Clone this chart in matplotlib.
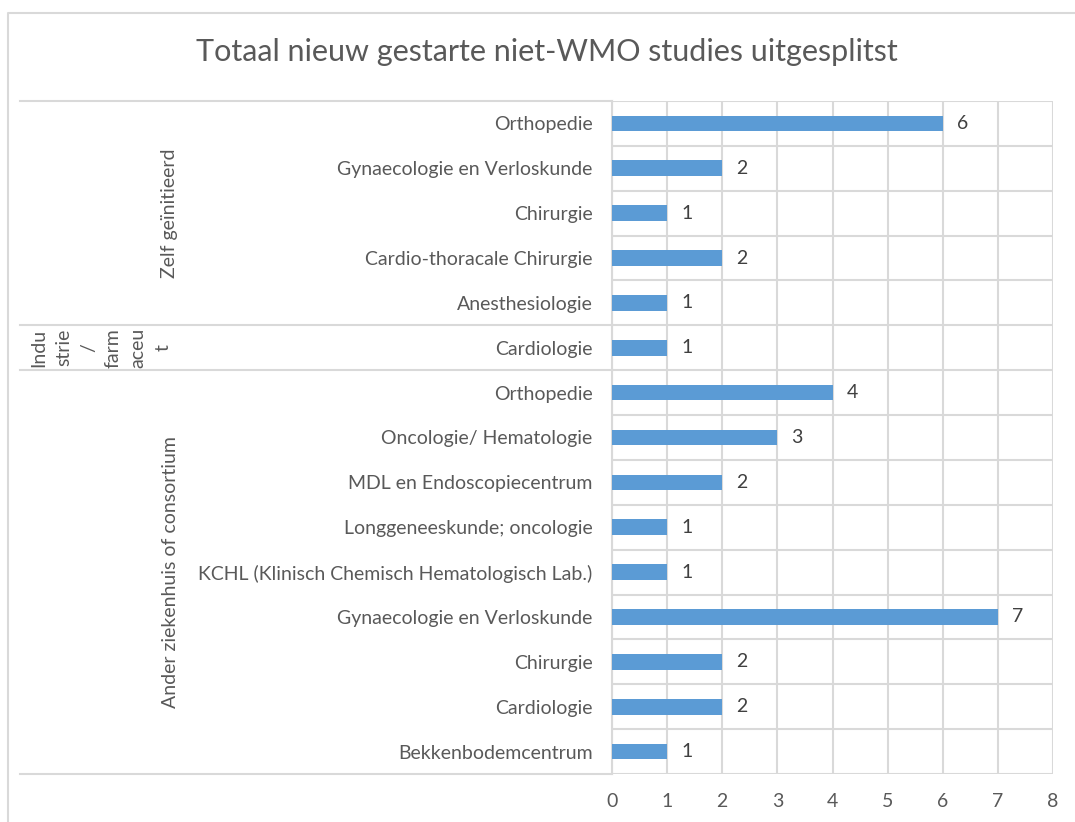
import numpy as np
import matplotlib
matplotlib.use("Agg")
import matplotlib.pyplot as plt
from matplotlib import transforms
from matplotlib.lines import Line2D

# data, bottom to top as drawn
categories = ["Bekkenbodemcentrum", "Cardiologie", "Chirurgie",
              "Gynaecologie en Verloskunde",
              "KCHL (Klinisch Chemisch Hematologisch Lab.)",
              "Longgeneeskunde; oncologie", "MDL en Endoscopiecentrum",
              "Oncologie/ Hematologie", "Orthopedie",
              "Cardiologie",
              "Anesthesiologie", "Cardio-thoracale Chirurgie", "Chirurgie",
              "Gynaecologie en Verloskunde", "Orthopedie"]
values = [1, 2, 2, 7, 1, 1, 2, 3, 4, 1, 1, 2, 1, 2, 6]
groups = ["Ander ziekenhuis of consortium", "Indu\nstrie\n/\nfarm\naceu\nt", "Zelf geïnitieerd"]
group_sizes = [9, 1, 5]

plt.rcParams['font.family'] = ['Lato', 'DejaVu Sans']
grey = "#595959"
line_c = "#D9D9D9"
fs = 14

W, H = 1075, 822
fig = plt.figure(figsize=(W / 100, H / 100), dpi=100)
ax = fig.add_axes([612 / W, 1 - 774 / H, 441 / W, 673 / H])

y = np.arange(len(values))
ax.barh(y, values, height=0.35, color="#5B9BD5", zorder=3)
for yi, v in zip(y, values):
    ax.annotate(str(v), (v, yi), xytext=(10, 0), textcoords="offset points",
                ha="left", va="center", fontsize=fs, color="#404040")

ax.set_xlim(0, 8)
ax.set_ylim(-0.5, len(values) - 0.5)
ax.set_xticks(range(9))
ax.set_yticks(y)
ax.set_yticklabels(categories)
ax.tick_params(axis="x", length=0, pad=14, labelsize=fs, labelcolor=grey)
ax.tick_params(axis="y", length=0, pad=14, labelsize=fs, labelcolor=grey)

ax.set_yticks(np.arange(-0.5, len(values)), minor=True)
ax.tick_params(axis="y", which="minor", length=0)
ax.grid(axis="x", color=line_c, lw=1.5, zorder=0)
ax.grid(axis="y", which="minor", color=line_c, lw=1.5, zorder=0)
ax.grid(axis="y", which="major", visible=False)
for s in ["top", "right", "bottom"]:
    ax.spines[s].set_visible(False)
ax.spines["left"].set_color(line_c)
ax.spines["left"].set_linewidth(1.5)

# group separators and labels
tr = transforms.blended_transform_factory(fig.transFigure, ax.transData)
start = -0.5
edges = [start]
for g, n in zip(groups, group_sizes):
    mid = start + n / 2
    if n > 1:
        ax.text(170 / W, mid, g, transform=tr, rotation=90, ha="center",
                va="center", fontsize=fs, color=grey)
    else:
        ax.text(101 / W, mid, g, transform=tr, rotation=90, ha="center",
                va="center", ma="center", fontsize=fs, color=grey,
                linespacing=1.55)
    start += n
    edges.append(start)
for e in edges:
    fig.add_artist(Line2D([20 / W, 612 / W], [e, e], transform=tr,
                          color=line_c, lw=1.5))

# chart outer border
fig.add_artist(Line2D([8 / W, 8 / W, 1.0], [0.0, 1 - 13 / H, 1 - 13 / H],
                      transform=fig.transFigure, color=line_c, lw=1.5))

fig.text(547 / W, 1 - 52 / H, "Totaal nieuw gestarte niet-WMO studies uitgesplitst",
         ha="center", va="center", fontsize=22, color=grey)

fig.savefig("out.png", dpi=100)
